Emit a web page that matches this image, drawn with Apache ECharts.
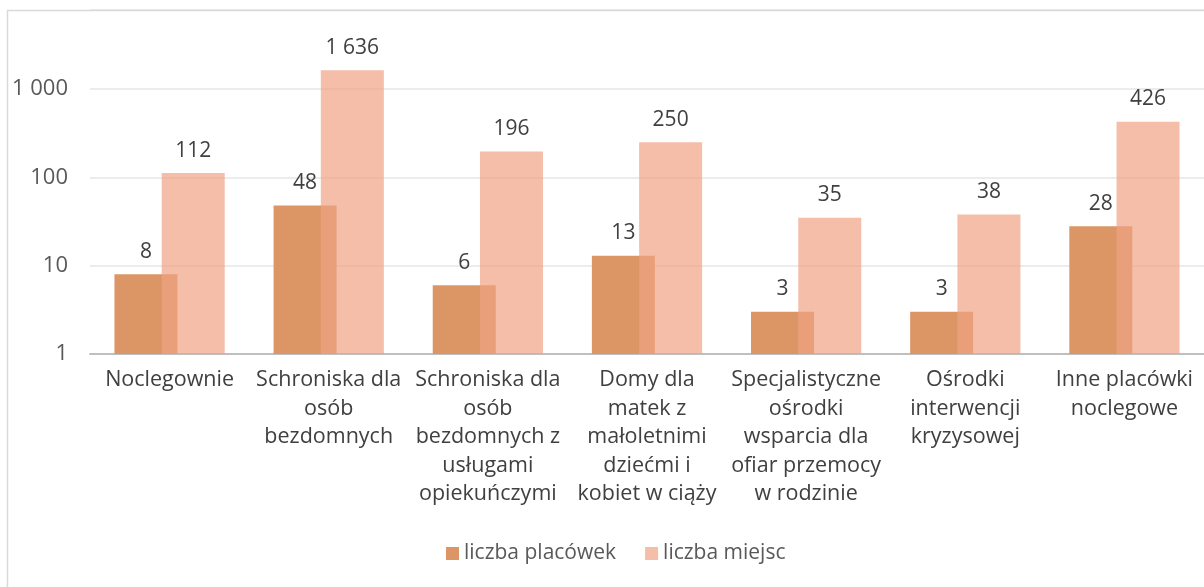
<!DOCTYPE html>
<html>
<head>
<meta charset="utf-8">
<script src="https://cdn.jsdelivr.net/npm/echarts@6/dist/echarts.min.js"></script>
<style>
html,body{margin:0;padding:0;background:#fff;}
#chart{width:1204px;height:587px;}
</style>
</head>
<body>
<div id="chart"></div>
<script>
const categories = [
  "Noclegownie",
  "Schroniska dla\nosób\nbezdomnych",
  "Schroniska dla\nosób\nbezdomnych z\nusługami\nopiekuńczymi",
  "Domy dla\nmatek z\nmałoletnimi\ndziećmi i\nkobiet w ciąży",
  "Specjalistyczne\nośrodki\nwsparcia dla\nofiar przemocy\nw rodzinie",
  "Ośrodki\ninterwencji\nkryzysowej",
  "Inne placówki\nnoclegowe"
];
const seriesNames = ["liczba placówek", "liczba miejsc"];
const placowki = [8, 48, 6, 13, 3, 3, 28];
const miejsca = [112, 1636, 196, 250, 35, 38, 426];

const FONT = "'Open Sans', 'Noto Sans', sans-serif";
const fmt = v => String(v).replace(/\B(?=(\d{3})+(?!\d))/g, " ");

const chart = echarts.init(document.getElementById('chart'), null, {renderer: 'canvas'});
chart.setOption({
  backgroundColor: '#ffffff',
  animation: false,
  textStyle: {fontFamily: FONT},
  graphic: [{
    type: 'rect', z: 100, silent: true,
    shape: {x: 7.5, y: 10.5, width: 1400, height: 800},
    style: {fill: 'none', stroke: '#D9D9D9', lineWidth: 1.5}
  }],
  legend: {
    data: seriesNames,
    left: 441,
    top: 538,
    itemWidth: 13,
    itemHeight: 13,
    itemGap: 29,
    icon: 'rect',
    textStyle: {fontFamily: FONT, fontSize: 21, color: '#595959'}
  },
  grid: {left: 90, top: 10, width: 1120, height: 344, containLabel: false},
  xAxis: {
    type: 'category',
    data: categories,
    axisLine: {show: true, lineStyle: {color: '#BFBFBF', width: 2}},
    axisTick: {show: false},
    axisLabel: {
      interval: 0, fontFamily: FONT, fontSize: 21.5, color: '#404040',
      lineHeight: 28.5, margin: 12
    }
  },
  yAxis: {
    type: 'log',
    logBase: 10,
    min: 1,
    max: 7870,
    axisLine: {show: false},
    axisTick: {show: false},
    splitLine: {show: true, lineStyle: {color: '#E6E6E6', width: 1.5}},
    axisLabel: {
      showMaxLabel: false,
      fontFamily: FONT, fontSize: 22, color: '#595959', margin: 22,
      formatter: v => fmt(Math.round(v))
    }
  },
  series: [
    {
      name: seriesNames[0], type: 'bar', data: placowki,
      barWidth: 63, barGap: '-25%',
      itemStyle: {color: '#DC9666'},
      label: {show: true, position: 'top', distance: 12, fontFamily: FONT, fontSize: 21, color: '#404040', formatter: p => fmt(p.value)}
    },
    {
      name: seriesNames[1], type: 'bar', data: miejsca,
      barWidth: 63, barGap: '-25%',
      itemStyle: {color: 'rgba(240,162,132,0.7)'},
      label: {show: true, position: 'top', distance: 12, fontFamily: FONT, fontSize: 21, color: '#404040', formatter: p => fmt(p.value)}
    }
  ]
});
</script>
</body>
</html>
